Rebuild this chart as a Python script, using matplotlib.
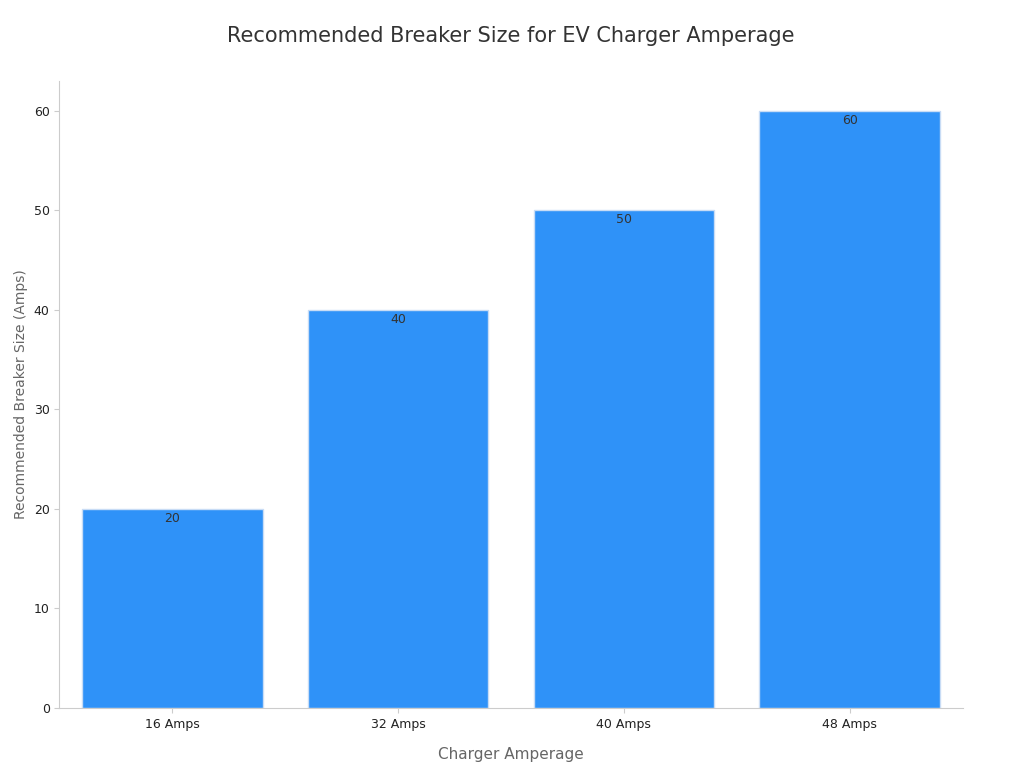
import matplotlib.pyplot as plt

categories = ["16 Amps", "32 Amps", "40 Amps", "48 Amps"]
breaker_sizes = [20, 40, 50, 60]

fig, ax = plt.subplots(figsize=(10.24, 7.68), dpi=100)
fig.subplots_adjust(left=0.058, right=0.94, top=0.895, bottom=0.078)

bars = ax.bar(categories, breaker_sizes, width=0.8, color="#2f92f8", edgecolor="#c8dcf5", linewidth=1)
for b, v in zip(bars, breaker_sizes):
    ax.text(b.get_x() + b.get_width() / 2, v - 0.3, str(v), ha="center", va="top",
            fontsize=9, color="#333333")

ax.set_xlim(-0.5, 3.5)
ax.set_ylim(0, 63)
ax.set_yticks(range(0, 61, 10))
ax.set_title("Recommended Breaker Size for EV Charger Amperage", fontsize=15, color="#333333", pad=28)
ax.set_xlabel("Charger Amperage", fontsize=11, color="#666666", labelpad=12)
ax.set_ylabel("Recommended Breaker Size (Amps)", fontsize=10, color="#666666")
for s in ["top", "right"]:
    ax.spines[s].set_visible(False)
for s in ["left", "bottom"]:
    ax.spines[s].set_color("#cccccc")
ax.tick_params(colors="#cccccc", labelcolor="#222222", labelsize=9)

fig.savefig("out.png")
